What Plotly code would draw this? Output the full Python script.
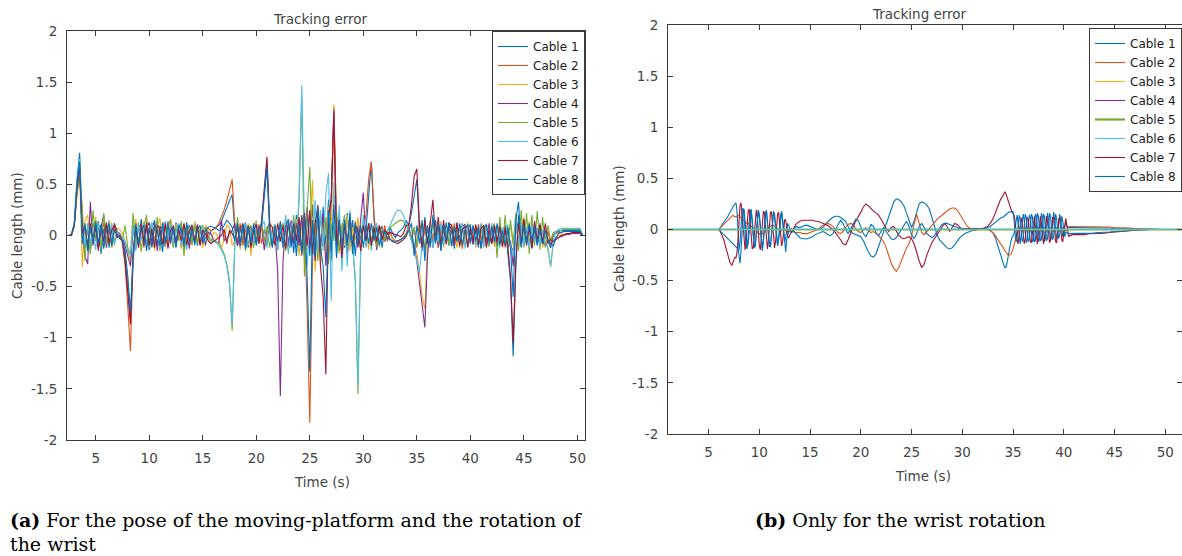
import numpy as np
import plotly.graph_objects as go

CABLES = ["Cable 1", "Cable 2", "Cable 3", "Cable 4", "Cable 5", "Cable 6", "Cable 7", "Cable 8"]
COLORS = ["#0072BD", "#D95319", "#EDB120", "#7E2F8E", "#77AC30", "#4DBEEE", "#A2142F", "#0072BD"]
Y_TICKS = [-2, -1.5, -1, -0.5, 0, 0.5, 1, 1.5, 2]
Y_TICK_TEXT = ["-2", "-1.5", "-1", "-0.5", "0", "0.5", "1", "1.5", "2"]
X_TICKS = [5, 10, 15, 20, 25, 30, 35, 40, 45, 50]

# (a) pose + wrist: samples every 0.25 s from 2.25 s to 50.75 s
TIME_A = np.arange(2.25, 50.8, 0.25)

A_CABLE1 = [
    0, 0, 0.01, 0.12, 0.55, 0.81, 0.10, -0.12,
    0.08, -0.15, 0.12, -0.05, 0.14, -0.18, 0.06, 0.10,
    -0.12, 0.09, -0.06, 0.02, -0.03, -0.05, -0.20, -0.55,
    -0.82, -0.25, 0.05, -0.10, 0.16, -0.08, 0.11, -0.14,
    0.07, 0.15, -0.09, 0.04, -0.16, 0.12, -0.02, 0.09,
    -0.11, 0.13, -0.04, 0.08, -0.15, 0.05, 0.10, -0.07,
    0.12, -0.10, 0.06, -0.05, 0.09, -0.03, 0.04, 0.06,
    0.08, 0.10, 0.14, 0.20, 0.27, 0.34, 0.40, 0.05,
    -0.10, 0.08, -0.05, 0.13, -0.12, 0.06, 0.02, -0.08,
    0.05, 0.12, 0.45, 0.72, 0.10, -0.10, 0.09, -0.14,
    0.06, -0.12, 0.15, -0.08, 0.11, -0.17, 0.20, -0.06,
    0.18, -0.22, 0.25, -0.20, 0.30, -0.15, 0.22, -0.18,
    0.28, -0.10, 0.35, -0.25, 0.12, 0.20, -0.15, 0.10,
    -0.12, 0.22, -0.08, 0.15, -0.20, 0.10, -0.05, 0.12,
    0.05, 0.40, 0.72, 0.20, -0.08, 0.10, -0.12, 0.06,
    -0.05, 0.08, 0.02, -0.02, 0.03, 0.05, 0.08, 0.15,
    0.10, 0.22, 0.40, 0.55, 0.05, -0.15, 0.18, -0.10,
    0.12, -0.08, 0.15, -0.12, 0.09, -0.06, 0.13, -0.10,
    0.07, -0.13, 0.10, -0.04, 0.12, -0.09, 0.05, 0.11,
    -0.08, 0.06, -0.12, 0.10, -0.03, 0.08, -0.10, 0.05,
    0.09, -0.11, 0.07, -0.06, 0.10, -0.15, -0.45, -1.18,
    -0.30, 0.20, -0.10, 0.12, -0.08, 0.10, -0.12, 0.07,
    -0.05, 0.09, -0.10, 0.04, -0.06, -0.12, 0.00, 0.03,
    0.04, 0.05, 0.05, 0.05, 0.05, 0.05, 0.05, 0.05,
    0.05, 0.0, 0.0,
]
A_CABLE2 = [
    0, 0, 0.01, 0.10, 0.45, 0.65, -0.05, 0.10,
    -0.12, 0.06, -0.08, 0.15, -0.10, 0.04, 0.12, -0.09,
    0.07, -0.11, 0.05, 0.03, 0.01, -0.08, -0.30, -0.70,
    -1.13, -0.20, 0.10, -0.06, 0.08, -0.12, 0.14, -0.03,
    -0.10, 0.09, 0.05, -0.13, 0.11, -0.04, -0.09, 0.12,
    0.04, -0.08, 0.10, -0.12, 0.06, 0.08, -0.10, 0.02,
    -0.06, 0.10, -0.09, 0.05, -0.04, 0.07, 0.05, 0.06,
    0.08, 0.12, 0.18, 0.25, 0.34, 0.45, 0.55, 0.08,
    -0.06, 0.12, -0.10, 0.05, 0.09, -0.13, 0.07, -0.04,
    0.11, -0.08, 0.06, -0.10, 0.13, -0.05, 0.08, -0.11,
    0.10, -0.06, 0.12, -0.14, 0.08, 0.04, -0.12, 0.15,
    -0.20, 0.10, -0.70, -1.83, -0.25, 0.12, -0.18, 0.20,
    -0.10, 0.15, -0.22, 0.30, 1.26, 0.10, -0.15, 0.08,
    0.12, -0.18, 0.10, -0.06, 0.14, -0.10, 0.05, 0.08,
    0.20, 0.55, 0.72, 0.15, -0.10, 0.08, -0.05, 0.10,
    -0.06, 0.04, -0.03, -0.05, -0.06, -0.04, -0.02, 0.02,
    0.10, -0.05, 0.08, -0.12, 0.15, -0.10, 0.06, -0.08,
    0.14, -0.06, 0.10, -0.12, 0.05, 0.11, -0.09, 0.07,
    -0.10, 0.12, -0.05, 0.08, -0.13, 0.06, 0.10, -0.07,
    0.05, -0.09, 0.11, -0.04, 0.08, -0.10, 0.06, 0.03,
    -0.08, 0.10, -0.05, 0.07, -0.12, 0.05, -0.10, -0.15,
    0.12, -0.05, 0.09, -0.10, 0.06, -0.08, 0.11, -0.04,
    0.07, -0.09, 0.05, -0.03, 0.04, -0.10, 0.01, 0.02,
    0.03, 0.03, 0.04, 0.04, 0.04, 0.04, 0.04, 0.04,
    0.04, 0.0, 0.0,
]
A_CABLE3 = [
    0, 0, 0.01, 0.08, 0.40, 0.60, -0.31, 0.15,
    0.20, -0.10, 0.05, 0.18, -0.14, 0.10, -0.05, 0.12,
    -0.08, 0.13, -0.10, 0.07, 0.06, 0.02, -0.05, -0.15,
    -0.25, 0.05, 0.16, -0.11, 0.09, 0.14, -0.08, 0.05,
    0.12, -0.14, 0.08, 0.17, -0.06, 0.10, -0.12, 0.15,
    -0.09, 0.11, 0.05, -0.13, 0.12, -0.04, 0.08, -0.10,
    0.14, -0.06, 0.09, -0.12, 0.10, 0.05, -0.08, 0.03,
    0.02, -0.05, -0.12, -0.04, 0.10, 0.08, -0.10, -0.05,
    0.10, -0.14, 0.06, -0.08, 0.12, -0.20, 0.09, 0.15,
    -0.06, 0.11, -0.12, 0.04, 0.14, -0.09, 0.07, -0.13,
    0.12, -0.10, 0.18, -0.15, 0.09, -0.05, 0.16, -0.20,
    0.10, 0.25, -0.15, 0.05, 0.54, -0.35, 0.20, -0.30,
    0.15, -0.20, 0.28, -0.10, 1.28, 0.05, -0.18, 0.12,
    -0.10, 0.20, -0.15, 0.08, -0.05, 0.18, -0.12, 0.10,
    0.08, -0.14, 0.12, -0.06, 0.10, -0.12, 0.07, -0.05,
    0.04, -0.02, -0.03, -0.05, -0.07, -0.06, -0.04, -0.02,
    0.05, 0.00, -0.08, -0.18, -0.35, -0.60, -0.72, -0.10,
    0.12, -0.10, 0.08, -0.05, 0.14, -0.12, 0.06, 0.10,
    -0.08, 0.05, -0.12, 0.11, 0.04, -0.09, 0.13, -0.06,
    0.10, -0.12, 0.07, 0.05, -0.10, 0.12, -0.05, 0.08,
    -0.11, 0.09, 0.06, -0.12, 0.08, -0.05, 0.10, -0.10,
    0.15, -0.12, 0.10, 0.18, -0.08, 0.14, -0.10, 0.12,
    -0.06, 0.10, -0.12, 0.06, -0.15, -0.31, -0.08, -0.02,
    0.00, 0.01, 0.01, 0.02, 0.02, 0.02, 0.02, 0.02,
    0.02, 0.0, 0.0,
]
A_CABLE4 = [
    0, 0, 0.01, 0.10, 0.42, 0.62, 0.05, -0.20,
    -0.28, 0.33, -0.10, 0.12, -0.15, 0.08, 0.20, -0.12,
    0.10, -0.08, 0.12, 0.04, 0.02, -0.03, -0.10, -0.20,
    -0.30, 0.10, -0.13, 0.08, 0.11, -0.10, 0.06, 0.13,
    -0.07, 0.12, -0.15, 0.09, 0.05, -0.11, 0.14, -0.08,
    0.10, -0.06, 0.08, 0.12, -0.10, 0.06, -0.13, 0.09,
    -0.05, 0.11, -0.08, 0.06, -0.10, 0.03, 0.02, -0.04,
    -0.06, -0.08, 0.15, -0.05, -0.03, 0.02, 0.05, 0.12,
    -0.10, 0.07, 0.11, -0.12, 0.05, 0.09, -0.08, 0.12,
    -0.05, 0.10, -0.14, 0.06, 0.12, -0.10, 0.04, -0.35,
    -1.57, -0.25, 0.10, -0.12, 0.15, -0.08, 0.12, -0.10,
    0.20, -0.15, 0.28, -0.10, 0.15, -0.25, 0.30, -0.12,
    0.22, -0.30, 0.10, 0.35, 1.23, -0.05, 0.18, -0.20,
    0.10, -0.15, 0.20, -0.10, 0.08, -0.12, 0.15, 0.42,
    -0.10, 0.12, -0.08, 0.10, -0.14, 0.06, 0.09, -0.06,
    0.03, -0.04, -0.06, -0.07, -0.08, -0.06, -0.04, 0.00,
    0.06, -0.02, -0.10, -0.25, -0.45, -0.65, -0.90, -0.20,
    0.10, -0.12, 0.05, 0.09, -0.14, 0.08, -0.06, 0.12,
    0.05, -0.10, 0.13, -0.07, 0.09, 0.11, -0.12, 0.04,
    -0.09, 0.08, 0.05, -0.13, 0.10, -0.06, 0.12, -0.08,
    0.06, -0.10, 0.12, -0.04, 0.09, -0.12, -0.05, -0.30,
    0.08, 0.12, -0.10, 0.16, -0.05, 0.10, -0.13, 0.07,
    -0.08, 0.12, -0.05, -0.10, -0.06, -0.08, -0.05, -0.03,
    -0.02, -0.01, 0.00, 0.01, 0.01, 0.02, 0.02, 0.02,
    0.02, 0.0, 0.0,
]
A_CABLE5 = [
    0, 0, 0.01, 0.09, 0.40, 0.60, 0.28, -0.25,
    0.12, -0.18, 0.25, -0.05, 0.10, -0.14, 0.22, -0.08,
    0.15, -0.12, 0.07, 0.03, -0.02, -0.04, 0.10, -0.12,
    -0.18, 0.22, -0.10, 0.13, -0.16, 0.08, 0.20, -0.12,
    0.10, -0.06, 0.18, -0.15, 0.12, -0.10, 0.08, 0.16,
    -0.12, 0.09, -0.05, 0.14, -0.20, 0.10, 0.06, -0.09,
    0.11, -0.08, 0.05, 0.10, -0.06, -0.02, -0.04, -0.05,
    -0.06, -0.08, -0.12, -0.18, -0.28, -0.45, -0.93, -0.05,
    0.18, -0.10, 0.12, -0.15, 0.07, 0.10, -0.12, 0.05,
    -0.08, 0.14, -0.06, 0.09, -0.12, 0.05, 0.11, -0.10,
    0.08, 0.12, -0.15, 0.10, -0.08, 0.20, -0.12, 0.35,
    1.37, -0.40, 0.25, 0.67, -0.20, 0.15, -0.25, 0.22,
    -0.10, 0.18, -0.28, 0.12, -0.05, 0.25, -0.15, 0.08,
    0.20, -0.12, 0.10, -0.08, -0.45, -1.55, -0.20, 0.15,
    -0.10, 0.12, -0.06, 0.09, -0.11, 0.05, 0.07, -0.05,
    0.05, 0.08, 0.10, 0.12, 0.14, 0.15, 0.14, 0.10,
    0.05, -0.05, 0.08, -0.10, 0.06, 0.12, -0.15, 0.10,
    -0.08, 0.13, -0.05, 0.10, -0.12, 0.07, 0.05, -0.09,
    0.11, -0.06, 0.09, -0.12, 0.08, 0.05, -0.10, 0.07,
    -0.05, 0.10, -0.08, 0.12, -0.06, 0.09, -0.11, 0.06,
    0.12, -0.22, 0.18, -0.10, 0.20, -0.12, 0.15, -0.08,
    0.22, -0.15, 0.25, -0.12, 0.22, -0.18, 0.20, -0.10,
    0.24, -0.14, 0.18, -0.12, 0.10, -0.05, 0.03, 0.04,
    0.05, 0.05, 0.06, 0.06, 0.06, 0.06, 0.06, 0.06,
    0.06, 0.0, 0.0,
]
A_CABLE6 = [
    0, 0, 0.01, 0.12, 0.50, 0.75, 0.05, -0.10,
    0.10, -0.08, 0.06, -0.14, 0.12, 0.04, -0.10, 0.08,
    -0.05, 0.11, -0.09, 0.04, 0.01, -0.02, -0.06, -0.15,
    -0.20, 0.08, -0.15, 0.10, -0.05, 0.12, -0.09, 0.06,
    0.13, -0.10, 0.05, -0.12, 0.09, 0.14, -0.07, 0.10,
    -0.08, 0.05, 0.12, -0.10, 0.08, -0.14, 0.06, 0.11,
    -0.10, 0.07, -0.04, 0.08, -0.05, -0.03, -0.05, -0.06,
    -0.07, -0.10, -0.14, -0.20, -0.30, -0.48, -0.86, -0.10,
    0.10, -0.12, 0.08, 0.12, -0.10, 0.05, -0.08, 0.13,
    -0.06, 0.09, 0.14, -0.12, 0.07, -0.05, 0.10, -0.14,
    0.12, -0.08, 0.20, -0.18, 0.10, 0.15, -0.10, 0.40,
    1.47, 0.10, -0.30, 0.18, -0.22, 0.35, -0.18, 0.25,
    -0.15, 0.40, 0.61, -0.64, 0.52, -0.20, 0.30, -0.35,
    0.18, -0.30, 0.25, -0.12, -0.40, -1.47, -0.15, 0.20,
    -0.12, 0.10, -0.15, 0.08, 0.12, -0.08, 0.05, 0.02,
    0.05, 0.10, 0.16, 0.22, 0.25, 0.24, 0.20, 0.12,
    0.05, -0.05, -0.15, -0.25, -0.35, -0.10, 0.12, -0.08,
    0.10, -0.12, 0.07, -0.06, 0.12, -0.10, 0.05, 0.09,
    -0.11, 0.06, 0.10, -0.08, 0.12, -0.13, 0.07, -0.05,
    0.09, -0.10, 0.05, 0.11, -0.12, 0.06, -0.08, 0.12,
    -0.07, 0.10, -0.12, 0.08, -0.05, 0.11, -0.10, -0.20,
    0.15, -0.08, 0.12, -0.10, 0.08, -0.12, 0.10, -0.06,
    0.08, -0.10, 0.06, -0.08, -0.12, -0.30, -0.05, 0.04,
    0.06, 0.07, 0.07, 0.07, 0.07, 0.07, 0.07, 0.07,
    0.07, 0.0, 0.0,
]
A_CABLE7 = [
    0, 0, 0.01, 0.10, 0.45, 0.68, 0.02, 0.10,
    -0.10, 0.12, -0.05, 0.08, -0.12, 0.10, -0.06, 0.13,
    -0.08, 0.05, 0.10, -0.02, 0.00, -0.06, -0.25, -0.60,
    -0.87, -0.15, 0.08, -0.12, 0.10, -0.05, 0.12, -0.10,
    0.06, -0.12, 0.10, 0.07, -0.09, 0.12, -0.13, 0.05,
    0.09, -0.11, 0.06, -0.05, 0.12, -0.09, 0.04, 0.10,
    -0.07, 0.09, -0.10, 0.05, 0.02, -0.05, -0.08, -0.06,
    -0.04, -0.02, 0.00, 0.06, -0.08, 0.05, 0.02, -0.04,
    0.08, -0.10, 0.12, -0.06, 0.10, -0.12, 0.05, 0.11,
    -0.08, 0.15, 0.50, 0.77, 0.12, 0.08, -0.10, 0.12,
    -0.06, 0.10, -0.13, 0.15, -0.08, 0.12, -0.05, 0.18,
    -0.15, 0.22, -0.10, 0.25, -0.18, 0.12, 0.28, -0.30,
    -0.60, -1.36, 0.20, 0.35, 1.20, -0.10, 0.15, -0.22,
    0.12, -0.08, 0.18, -0.12, 0.10, 0.05, -0.15, 0.10,
    -0.05, 0.12, -0.10, 0.08, -0.06, 0.10, -0.04, 0.05,
    0.02, 0.03, 0.02, 0.01, 0.00, -0.01, 0.02, 0.10,
    0.10, 0.30, 0.58, 0.65, 0.10, -0.12, 0.15, -0.08,
    0.12, 0.35, -0.05, 0.18, -0.10, 0.15, -0.08, 0.12,
    0.10, -0.07, 0.12, -0.10, 0.06, 0.09, -0.11, 0.08,
    -0.06, 0.11, -0.09, 0.07, 0.10, -0.12, 0.05, -0.08,
    0.10, -0.06, 0.09, -0.11, 0.07, -0.10, -0.40, -1.05,
    -0.25, 0.12, -0.08, 0.15, -0.10, 0.09, -0.12, 0.14,
    -0.05, 0.10, -0.08, 0.12, -0.06, -0.04, -0.06, -0.04,
    -0.02, 0.00, 0.01, 0.02, 0.02, 0.03, 0.03, 0.03,
    0.03, 0.0, 0.0,
]
A_CABLE8 = [
    0, 0, 0.01, 0.11, 0.50, 0.72, -0.08, 0.12,
    -0.15, 0.10, -0.06, 0.14, -0.08, 0.11, -0.13, 0.05,
    0.12, -0.10, 0.05, 0.01, -0.03, -0.05, -0.15, -0.40,
    -0.75, -0.18, 0.12, -0.08, 0.05, 0.10, -0.15, 0.08,
    -0.12, 0.10, 0.06, -0.10, 0.13, -0.08, 0.11, -0.05,
    0.08, -0.12, 0.10, 0.05, -0.09, 0.13, -0.06, 0.07,
    -0.09, 0.06, 0.10, -0.08, 0.05, 0.08, 0.09, 0.08,
    0.07, 0.05, 0.06, 0.10, 0.15, 0.12, 0.08, -0.05,
    0.12, -0.08, 0.10, -0.13, 0.09, -0.06, 0.12, -0.10,
    0.08, 0.10, 0.40, 0.66, 0.05, -0.12, 0.10, -0.06,
    0.14, -0.10, 0.08, 0.16, -0.12, 0.10, -0.20, 0.12,
    -0.18, 0.20, -0.40, -1.33, 0.15, -0.20, 0.28, -0.12,
    -0.30, -0.80, 0.25, -0.15, 0.30, -0.22, 0.15, -0.10,
    0.15, -0.10, 0.22, -0.18, 0.12, -0.08, 0.10, -0.12,
    0.10, -0.08, 0.12, -0.05, 0.08, -0.10, 0.04, 0.03,
    -0.02, -0.04, -0.05, -0.06, -0.05, -0.04, -0.02, 0.00,
    0.05, 0.12, -0.20, 0.10, -0.08, 0.15, -0.25, 0.10,
    -0.12, 0.20, -0.08, 0.12, -0.15, 0.10, -0.05, 0.13,
    -0.10, 0.08, -0.06, 0.12, -0.09, 0.05, 0.11, -0.08,
    0.10, -0.05, 0.08, -0.12, 0.06, 0.11, -0.07, 0.09,
    -0.06, 0.12, -0.09, 0.05, -0.10, 0.08, -0.12, -0.60,
    0.15, 0.33, -0.12, 0.10, -0.08, 0.12, -0.05, 0.09,
    -0.10, 0.06, -0.08, 0.05, -0.04, -0.08, -0.10, -0.02,
    0.02, 0.03, 0.04, 0.04, 0.04, 0.04, 0.04, 0.04,
    0.04, 0.0, 0.0,
]

# (b) wrist only: sparse at rest, 0.1 s while oscillating, 0.25 s / 0.5 s elsewhere
TIME_B = np.round(np.concatenate([
    [1.0, 2.0, 3.0, 4.0, 5.0, 5.5, 5.8],
    np.arange(6.0, 13.95, 0.1),
    np.arange(14.0, 33.8, 0.25),
    np.arange(34.0, 40.95, 0.1),
    np.arange(41.0, 51.6, 0.5),
]), 2)

B_CABLE1 = [
    0.0, 0.0, 0.0, 0.0, 0.0, 0.0, 0.0,
    0.00, 0.01, 0.03, 0.05, 0.06, 0.07, 0.09, 0.10, 0.11, 0.13,
    0.15, 0.17, 0.19, 0.21, 0.23, 0.24, 0.25, 0.26, 0.18, -0.05,
    -0.20, -0.12, 0.05, 0.18, 0.21, 0.12, -0.04, -0.16, -0.19, -0.08,
    0.08, 0.19, 0.17, 0.04, -0.10, -0.18, -0.14, 0.00, 0.14, 0.19,
    0.12, -0.02, -0.15, -0.21, -0.10, 0.05, 0.17, 0.18, 0.06, -0.08,
    -0.17, -0.15, -0.02, 0.12, 0.18, 0.12, 0.00, -0.12, -0.16, -0.08,
    0.05, 0.15, 0.16, 0.06, -0.05, -0.12, -0.08, 0.02, 0.06, 0.04,
    0.00, -0.02, -0.03, -0.02, 0.00, 0.02, 0.03, 0.03, 0.02, 0.02,
    0.02, 0.03, 0.04, 0.04, 0.03, 0.02, 0.01, 0.00, 0.00, 0.02,
    0.05, 0.08, 0.10, 0.12, 0.13, 0.13, 0.12, 0.10, 0.08, 0.03,
    -0.02, -0.04, -0.05, -0.06, -0.07, -0.11, -0.17, -0.22, -0.26, -0.27,
    -0.24, -0.17, -0.10, -0.02, 0.05, 0.12, 0.19, 0.27, 0.30, 0.29,
    0.27, 0.23, 0.16, 0.08, 0.02, 0.08, 0.18, 0.25, 0.27, 0.26,
    0.24, 0.20, 0.12, 0.03, -0.05, -0.10, -0.13, -0.16, -0.18, -0.19,
    -0.18, -0.15, -0.11, -0.08, -0.06, -0.04, -0.03, -0.02, -0.01, -0.01,
    0.00, 0.00, 0.00, 0.00, 0.00, -0.01, -0.03, -0.08, -0.16, -0.26,
    -0.32, -0.35, -0.37, -0.37, -0.33, -0.27, -0.20, -0.15, -0.11, -0.08,
    -0.06, -0.04, 0.02, 0.10, 0.14, 0.06, -0.08, -0.14, -0.06, 0.08,
    0.15, 0.10, -0.04, -0.13, -0.10, 0.03, 0.14, 0.12, -0.01, -0.12,
    -0.11, 0.02, 0.15, 0.13, 0.00, -0.12, -0.10, 0.04, 0.16, 0.12,
    -0.02, -0.12, -0.08, 0.06, 0.16, 0.10, -0.04, -0.11, -0.06, 0.07,
    0.17, 0.10, -0.04, -0.10, -0.04, 0.08, 0.15, 0.08, -0.03, -0.07,
    -0.02, 0.06, 0.08, 0.04, 0.02, 0.02, 0.02, 0.02, 0.02, 0.02,
    0.02, 0.02, 0.02, 0.02, 0.02, 0.02, 0.015, 0.015, 0.01, 0.01, 0.01,
    0.005, 0.005, 0.005, 0.0, 0.0, 0.0, 0.0, 0.0, 0.0, 0.0, 0.0,
]
B_CABLE2 = [
    0.0, 0.0, 0.0, 0.0, 0.0, 0.0, 0.0,
    0.00, 0.01, 0.02, 0.03, 0.04, 0.05, 0.07, 0.08, 0.09, 0.10,
    0.11, 0.12, 0.13, 0.14, 0.14, 0.13, 0.12, 0.12, 0.13, 0.14,
    0.13, 0.12, 0.11, 0.10, 0.09, 0.09, 0.08, 0.07, 0.06, 0.06,
    0.05, 0.04, 0.03, 0.02, 0.01, 0.00, -0.01, -0.02, -0.03, -0.04,
    -0.04, -0.05, -0.05, -0.04, -0.03, -0.02, -0.01, 0.00, 0.01, 0.02,
    0.03, 0.04, 0.04, 0.05, 0.04, 0.03, 0.02, 0.01, 0.00, -0.01,
    -0.02, -0.02, -0.01, 0.00, 0.01, 0.00, -0.01, -0.02, -0.02, -0.02,
    -0.02, -0.02, -0.02, -0.02, -0.02, -0.03, -0.03, -0.03, -0.03, -0.03,
    -0.03, -0.04, -0.04, -0.04, -0.03, -0.02, -0.01, 0.00, 0.02, 0.04,
    0.05, 0.06, 0.05, 0.03, 0.00, -0.03, -0.04, -0.02, 0.02, 0.05,
    0.06, 0.05, 0.01, -0.02, -0.03, 0.00, 0.02, -0.01, -0.03, -0.02,
    -0.04, -0.06, -0.09, -0.12, -0.18, -0.26, -0.33, -0.38, -0.41, -0.37,
    -0.30, -0.25, -0.18, -0.14, -0.06, 0.05, 0.15, 0.06, -0.03, -0.05,
    -0.02, 0.02, 0.04, 0.07, 0.10, 0.12, 0.14, 0.16, 0.18, 0.20,
    0.21, 0.21, 0.19, 0.15, 0.10, 0.06, 0.03, 0.01, 0.00, 0.00,
    0.00, 0.00, 0.00, 0.00, 0.00, -0.01, -0.03, -0.06, -0.10, -0.14,
    -0.17, -0.19, -0.21, -0.23, -0.24, -0.25, -0.25, -0.25, -0.24, -0.22,
    -0.19, -0.15, -0.11, -0.07, -0.04, -0.01, 0.01, 0.02, 0.01, -0.01,
    -0.02, -0.01, 0.01, 0.02, 0.01, -0.01, -0.02, -0.01, 0.01, 0.02,
    0.01, -0.01, -0.02, -0.01, 0.01, 0.02, 0.01, -0.01, -0.02, -0.01,
    0.01, 0.02, 0.01, -0.01, -0.02, -0.01, 0.01, 0.02, 0.01, -0.01,
    -0.02, -0.01, 0.01, 0.02, 0.01, -0.01, -0.02, -0.01, 0.01, 0.02,
    0.01, -0.01, -0.02, 0.00, 0.02, 0.03, 0.03, 0.03, 0.03, 0.03,
    0.03, 0.03, 0.03, 0.03, 0.03, 0.03, 0.03, 0.025, 0.02, 0.02, 0.02,
    0.015, 0.01, 0.01, 0.01, 0.005, 0.005, 0.0, 0.0, 0.0, 0.0, 0.0,
]
B_CABLE7 = [
    0.0, 0.0, 0.0, 0.0, 0.0, 0.0, 0.0,
    0.00, -0.01, -0.03, -0.05, -0.08, -0.10, -0.14, -0.18, -0.22, -0.26,
    -0.30, -0.32, -0.34, -0.35, -0.32, -0.29, -0.27, -0.28, -0.22, -0.10,
    0.10, 0.24, 0.26, 0.14, -0.02, -0.15, -0.20, -0.10, 0.06, 0.18,
    0.20, 0.08, -0.08, -0.19, -0.18, -0.04, 0.12, 0.19, 0.12, -0.03,
    -0.16, -0.20, -0.08, 0.08, 0.18, 0.16, 0.02, -0.13, -0.19, -0.10,
    0.05, 0.17, 0.17, 0.04, -0.11, -0.18, -0.12, 0.02, 0.15, 0.17,
    0.07, -0.08, -0.16, -0.12, 0.00, 0.10, 0.09, 0.00, -0.07, -0.08,
    -0.05, -0.03, -0.02, 0.00, 0.02, 0.03, 0.05, 0.06, 0.07, 0.08,
    0.08, 0.09, 0.09, 0.09, 0.09, 0.09, 0.08, 0.08, 0.07, 0.06,
    0.05, 0.04, 0.02, 0.00, -0.03, -0.06, -0.10, -0.14, -0.15, -0.10,
    -0.03, 0.03, 0.08, 0.12, 0.17, 0.22, 0.25, 0.23, 0.20, 0.18,
    0.16, 0.14, 0.10, 0.05, 0.01, -0.02, 0.02, 0.03, -0.02, -0.06,
    -0.08, -0.09, -0.08, -0.07, -0.09, -0.14, -0.22, -0.31, -0.37, -0.34,
    -0.25, -0.18, -0.13, -0.09, -0.05, -0.01, 0.03, 0.06, 0.03, -0.02,
    0.02, 0.06, 0.05, 0.02, 0.01, 0.01, 0.01, 0.01, 0.01, 0.01,
    0.01, 0.01, 0.01, 0.02, 0.03, 0.06, 0.10, 0.16, 0.22, 0.29,
    0.33, 0.36, 0.37, 0.35, 0.32, 0.28, 0.25, 0.21, 0.18, 0.17,
    0.16, 0.14, 0.08, -0.02, -0.10, -0.14, -0.06, 0.06, 0.12, 0.06,
    -0.06, -0.14, -0.10, 0.02, 0.12, 0.10, -0.02, -0.12, -0.13, -0.02,
    0.10, 0.13, 0.03, -0.10, -0.14, -0.05, 0.08, 0.13, 0.05, -0.08,
    -0.14, -0.08, 0.05, 0.13, 0.08, -0.05, -0.13, -0.10, 0.02, 0.12,
    0.11, -0.01, -0.12, -0.13, -0.02, 0.10, 0.12, 0.02, -0.10, -0.12,
    -0.03, 0.08, 0.11, 0.04, -0.04, -0.07, -0.06, -0.06, -0.05, -0.05,
    -0.05, -0.05, -0.05, -0.04, -0.04, -0.04, -0.035, -0.03, -0.025, -0.02, -0.015,
    -0.01, -0.005, 0.0, 0.0, 0.0, 0.0, 0.0, 0.0, 0.0, 0.0, 0.0,
]
B_CABLE8 = [
    0.0, 0.0, 0.0, 0.0, 0.0, 0.0, 0.0,
    0.00, -0.01, -0.02, -0.03, -0.04, -0.05, -0.06, -0.07, -0.08, -0.09,
    -0.10, -0.11, -0.12, -0.13, -0.14, -0.15, -0.16, -0.17, -0.18, -0.18,
    -0.25, -0.33, -0.20, 0.00, 0.16, 0.20, 0.08, -0.08, -0.17, -0.14,
    0.00, 0.14, 0.20, 0.10, -0.05, -0.16, -0.17, -0.05, 0.10, 0.19,
    0.15, 0.01, -0.12, -0.18, -0.12, 0.03, 0.15, 0.19, 0.09, -0.06,
    -0.16, -0.17, -0.06, 0.08, 0.17, 0.15, 0.02, -0.10, -0.15, -0.10,
    0.02, 0.14, 0.18, 0.10, -0.02, -0.10, -0.22, -0.10, -0.03, -0.01,
    0.00, 0.01, 0.00, -0.01, -0.02, -0.03, -0.04, -0.05, -0.06, -0.07,
    -0.08, -0.09, -0.09, -0.09, -0.08, -0.07, -0.05, -0.04, -0.03, -0.02,
    -0.03, -0.05, -0.06, -0.04, 0.00, 0.05, 0.09, 0.06, 0.00, -0.04,
    0.01, 0.06, 0.10, 0.09, 0.03, -0.04, -0.07, -0.02, 0.05, 0.03,
    -0.03, -0.06, -0.02, 0.02, -0.02, -0.06, -0.09, -0.10, -0.08, -0.04,
    0.00, 0.04, 0.08, 0.03, -0.05, -0.09, -0.04, 0.03, 0.06, 0.02,
    -0.04, -0.06, -0.08, -0.06, -0.02, 0.02, 0.05, 0.06, 0.06, 0.05,
    0.04, 0.03, 0.02, 0.01, 0.00, 0.00, 0.00, 0.00, 0.00, 0.00,
    0.00, 0.00, 0.00, 0.01, 0.02, 0.03, 0.05, 0.07, 0.09, 0.11,
    0.12, 0.13, 0.14, 0.15, 0.16, 0.16, 0.17, 0.17, 0.18, 0.18,
    0.17, 0.10, -0.04, -0.12, -0.08, 0.06, 0.14, 0.10, -0.04, -0.12,
    -0.09, 0.05, 0.15, 0.12, -0.02, -0.12, -0.10, 0.04, 0.15, 0.13,
    0.00, -0.12, -0.11, 0.03, 0.16, 0.13, 0.00, -0.11, -0.10, 0.04,
    0.15, 0.13, -0.01, -0.11, -0.09, 0.05, 0.16, 0.12, -0.02, -0.10,
    -0.07, 0.06, 0.15, 0.10, -0.03, -0.09, -0.05, 0.06, 0.13, 0.08,
    -0.03, -0.07, -0.03, -0.03, -0.04, -0.04, -0.04, -0.04, -0.04, -0.04,
    -0.04, -0.04, -0.04, -0.04, -0.035, -0.03, -0.03, -0.025, -0.02, -0.02, -0.015,
    -0.01, -0.01, -0.005, -0.005, 0.0, 0.0, 0.0, 0.0, 0.0, 0.0, 0.0,
]
# cables 3-6 stay at zero during the wrist-only motion
TIME_B_FLAT = [1.0, 51.7]
B_FLAT = [0.0, 0.0]

A_SERIES = [A_CABLE1, A_CABLE2, A_CABLE3, A_CABLE4, A_CABLE5, A_CABLE6, A_CABLE7, A_CABLE8]
B_SERIES = [B_CABLE1, B_CABLE2, B_FLAT, B_FLAT, B_FLAT, B_FLAT, B_CABLE7, B_CABLE8]

for s in A_SERIES:
    assert len(s) == len(TIME_A), (len(s), len(TIME_A))
for s in (B_CABLE1, B_CABLE2, B_CABLE7, B_CABLE8):
    assert len(s) == len(TIME_B), (len(s), len(TIME_B))

AXIS_COLOR = "#3a3a3a"
SANS = "DejaVu Sans, sans-serif"
TICK_FONT = dict(family=SANS, size=13.5, color="#444444")
LABEL_FONT = dict(family=SANS, size=13.5, color="#444444")
CAPTION_FONT = dict(family="DejaVu Serif, serif", size=19, color="#000000")

fig = go.Figure()

for i, (name, color, ys) in enumerate(zip(CABLES, COLORS, A_SERIES)):
    fig.add_trace(go.Scatter(x=TIME_A, y=ys, name=name, mode="lines",
                             line=dict(color=color, width=1.1), legendrank=i + 1,
                             xaxis="x", yaxis="y", legend="legend"))

# wrist-only panel: moving cables first, the resting ones drawn last (on top at zero)
b_order = [0, 1, 6, 7, 2, 3, 4, 5]
for i in b_order:
    ys = B_SERIES[i]
    tx = TIME_B_FLAT if ys is B_FLAT else TIME_B
    width = 2.2 if i == 4 else 1.1
    fig.add_trace(go.Scatter(x=tx, y=ys, name=CABLES[i], mode="lines",
                             line=dict(color=COLORS[i], width=width), legendrank=i + 1,
                             xaxis="x2", yaxis="y2", legend="legend2"))


def x_axis(domain, rng, anchor):
    return dict(domain=domain, range=rng, anchor=anchor, tickmode="array", tickvals=X_TICKS,
                ticks="inside", ticklen=5, tickcolor=AXIS_COLOR, showline=True,
                linecolor=AXIS_COLOR, linewidth=1, mirror="ticks", showgrid=False,
                zeroline=False, tickfont=TICK_FONT, ticklabelstandoff=6)


def y_axis(domain, anchor):
    return dict(domain=domain, range=[-2, 2], anchor=anchor, tickmode="array",
                tickvals=Y_TICKS, ticktext=Y_TICK_TEXT, ticks="inside", ticklen=5,
                tickcolor=AXIS_COLOR, showline=True, linecolor=AXIS_COLOR, linewidth=1,
                mirror="ticks", showgrid=False, zeroline=False, tickfont=TICK_FONT,
                ticklabelstandoff=6)


def legend_box(x, y):
    return dict(x=x, y=y, xanchor="right", yanchor="top", bgcolor="white",
                bordercolor=AXIS_COLOR, borderwidth=1, tracegroupgap=0,
                font=dict(family=SANS, size=12, color="#1a1a1a"))


W, H = 1182, 556
fig.update_layout(
    width=W, height=H,
    margin=dict(l=0, r=0, t=0, b=0, autoexpand=False),
    paper_bgcolor="white", plot_bgcolor="white",
    showlegend=True,
    xaxis=x_axis([67 / W, 585 / W], [2.32, 50.71], "y"),
    yaxis=y_axis([1 - 440 / H, 1 - 31 / H], "x"),
    xaxis2=x_axis([668 / W, 1.0], [1.0, 51.65], "y2"),
    yaxis2=y_axis([1 - 434 / H, 1 - 25 / H], "x2"),
    legend=legend_box(585 / W, 1 - 31 / H),
    legend2=legend_box(1.0, 1 - 28 / H),
)

annotations = [
    dict(text="Tracking error", x=320 / W, y=1 - 19 / H, font=LABEL_FONT),
    dict(text="Tracking error", x=919 / W, y=1 - 14 / H, font=LABEL_FONT),
    dict(text="Time (s)", x=322 / W, y=1 - 482 / H, font=LABEL_FONT),
    dict(text="Time (s)", x=923 / W, y=1 - 476 / H, font=LABEL_FONT),
    dict(text="Cable length (mm)", x=17 / W, y=1 - 236 / H, textangle=-90, font=LABEL_FONT),
    dict(text="Cable length (mm)", x=619 / W, y=1 - 229 / H, textangle=-90, font=LABEL_FONT),
    dict(text="<b>(a)</b> For the pose of the moving-platform and the rotation of",
         x=8 / W, y=1 - 520 / H, xanchor="left", font=CAPTION_FONT),
    dict(text="the wrist", x=8 / W, y=1 - 544 / H, xanchor="left", font=CAPTION_FONT),
    dict(text="<b>(b)</b> Only for the wrist rotation", x=753 / W, y=1 - 520 / H,
         xanchor="left", font=CAPTION_FONT),
]
for a in annotations:
    a.setdefault("xanchor", "center")
    fig.add_annotation(xref="paper", yref="paper", yanchor="middle", showarrow=False, **a)

fig.write_html("out.html", config={"displayModeBar": False},
               post_script="document.body.style.margin = '0px';")
